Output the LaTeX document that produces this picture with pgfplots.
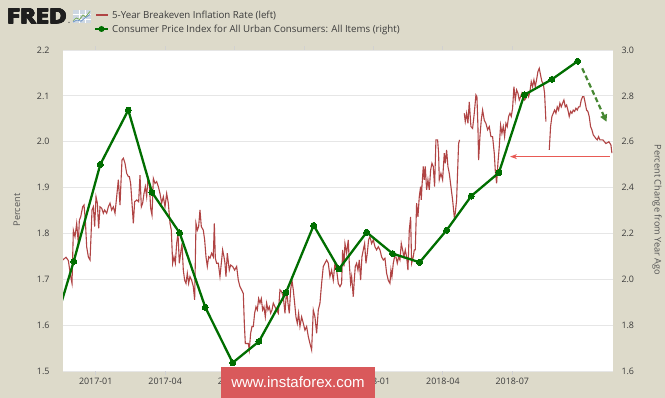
\documentclass[border=0pt]{standalone}
\usepackage{pgfplots}
\pgfplotsset{compat=1.18}
\usepackage{fontspec}
\setmainfont{Open Sans}
\newfontfamily\arialfont{Liberation Sans}
\newfontfamily\fredfont[BoldFeatures={FakeBold=3}]{Open Sans}
\usetikzlibrary{arrows.meta}
\definecolor{bgc}{RGB}{221,218,202}
\definecolor{bered}{RGB}{176,68,68}
\definecolor{cpigreen}{RGB}{0,110,0}
\definecolor{wm}{RGB}{217,89,91}
\definecolor{gridc}{RGB}{230,230,230}
\definecolor{tickc}{RGB}{60,60,60}
\definecolor{labc}{RGB}{85,85,85}
\definecolor{arrgreen}{RGB}{70,135,50}
\definecolor{arrred}{RGB}{232,90,85}
\definecolor{iconbg}{RGB}{205,215,226}
\definecolor{icongreen}{RGB}{120,170,90}
\definecolor{iconblue}{RGB}{110,150,200}
\begin{document}
\begin{tikzpicture}[x=1pt,y=1pt]
\fill[bgc] (0,0) rectangle (665,398);
\begin{axis}[
  at={(63pt,27pt)}, anchor=south west, scale only axis, width=550pt, height=321pt,
  xmin=-1.413, xmax=22.35, ymin=1.5, ymax=2.2,
  axis background/.style={fill=white},
  axis line style={draw=none},
  xtick={0,3,6,9,12,15,18},
  xticklabels={2017-01,2017-04,2017-07,2017-10,2018-01,2018-04,2018-07},
  ytick={1.5,1.6,1.7,1.8,1.9,2.0,2.1,2.2},
  ymajorgrids, grid style={gridc, line width=0.8pt},
  tick align=outside, major tick length=4pt,
  xtick style={draw=gridc!80!gray, line width=0.8pt}, ytick style={draw=none},
  tick label style={font=\fontsize{8.9}{10}\selectfont, text=tickc},
  yticklabel style={/pgf/number format/.cd,fixed,fixed zerofill,precision=1,assume math mode=true,/tikz/.cd,xshift=-6pt},
  unbounded coords=jump,
]
\addplot[bered, line width=1.1pt, no markers] coordinates {
(-1.427,1.742)(-1.283,1.748)(-1.182,1.741)(-1.081,1.706)(-1.024,1.691)(-0.966,1.807)(-0.894,1.793)(-0.822,1.822)(-0.750,1.778)(-0.707,1.829)(-0.649,1.836)(-0.563,1.858)(-0.505,1.862)(-0.448,1.829)(-0.390,1.771)(-0.318,1.749)(-0.246,1.742)(-0.203,1.793)(-0.160,1.851)(-0.102,1.858)(-0.045,1.815)(0.013,1.880)(0.071,1.866)(0.128,1.811)(0.186,1.858)(0.258,1.855)(0.330,1.844)(0.387,1.851)(0.474,1.844)(0.546,1.858)(0.618,1.866)(0.690,1.851)(0.762,1.858)(0.834,1.844)(0.906,1.880)(0.978,1.917)(1.050,1.862)(1.093,1.913)(1.136,1.960)(1.194,1.964)(1.266,1.953)(1.338,1.931)(1.410,1.924)(1.453,1.924)(1.510,1.909)(1.568,1.866)(1.626,1.822)(1.683,1.869)(1.770,1.873)(1.856,1.869)(1.914,1.927)(1.971,1.858)(2.029,1.866)(2.086,1.887)(2.144,1.902)(2.202,1.880)(2.259,1.920)(2.317,1.909)(2.374,1.855)(2.432,1.840)(2.490,1.920)(2.562,1.909)(2.634,1.913)(2.706,1.902)(2.778,1.887)(2.850,1.866)(2.922,1.880)(2.994,1.858)(3.066,1.887)(3.138,1.866)(3.210,1.822)(3.267,1.807)(3.325,1.735)(3.382,1.749)(3.440,1.735)(3.498,1.778)(3.555,1.800)(3.613,1.735)(3.670,1.757)(3.728,1.778)(3.785,1.720)(3.843,1.698)(3.901,1.691)(3.958,1.713)(4.016,1.691)(4.073,1.706)(4.145,1.698)(4.217,1.684)(4.275,1.655)(4.333,1.822)(4.390,1.807)(4.448,1.815)(4.505,1.851)(4.563,1.815)(4.649,1.807)(4.707,1.786)(4.765,1.749)(4.822,1.728)(4.880,1.749)(4.937,1.746)(5.009,1.757)(5.081,1.749)(5.125,1.822)(5.168,1.746)(5.225,1.735)(5.297,1.735)(5.369,1.706)(5.427,1.735)(5.484,1.764)(5.542,1.749)(5.585,1.735)(5.628,1.706)(5.686,1.757)(5.772,1.720)(5.830,1.731)(5.916,1.728)(6.003,1.720)(6.089,1.728)(6.161,1.698)(6.233,1.684)(6.305,1.677)(6.377,1.669)(6.421,1.604)(6.464,1.560)(6.521,1.560)(6.593,1.560)(6.636,1.546)(6.694,1.582)(6.752,1.597)(6.809,1.597)(6.867,1.626)(6.925,1.640)(6.982,1.633)(7.040,1.658)(7.097,1.648)(7.155,1.658)(7.212,1.633)(7.270,1.640)(7.328,1.618)(7.385,1.648)(7.443,1.633)(7.500,1.640)(7.558,1.626)(7.616,1.633)(7.673,1.648)(7.745,1.640)(7.817,1.633)(7.889,1.626)(7.961,1.677)(8.033,1.673)(8.105,1.662)(8.177,1.626)(8.249,1.677)(8.306,1.648)(8.364,1.626)(8.422,1.677)(8.479,1.698)(8.537,1.677)(8.595,1.648)(8.652,1.618)(8.710,1.604)(8.767,1.626)(8.825,1.597)(8.897,1.618)(8.969,1.604)(9.041,1.589)(9.113,1.597)(9.185,1.575)(9.257,1.560)(9.329,1.546)(9.401,1.633)(9.473,1.618)(9.545,1.582)(9.617,1.633)(9.689,1.648)(9.761,1.691)(9.833,1.728)(9.905,1.735)(9.977,1.742)(10.049,1.735)
(10.121,1.706)(10.193,1.720)(10.265,1.698)(10.337,1.735)(10.409,1.720)(10.481,1.691)(10.553,1.684)(10.625,1.691)(10.668,1.764)(10.726,1.728)(10.769,1.778)(10.841,1.757)(10.913,1.786)(10.956,1.735)(11.014,1.691)(11.057,1.706)(11.129,1.662)(11.172,1.698)(11.215,1.728)(11.273,1.735)(11.331,1.720)(11.388,1.742)(11.446,1.698)(11.503,1.749)(11.561,1.764)(11.619,1.778)(11.676,1.735)(11.734,1.757)(11.791,1.786)(11.849,1.793)(11.921,1.778)(11.993,1.786)(12.065,1.771)(12.137,1.764)(12.209,1.771)(12.281,1.764)(12.353,1.749)(12.425,1.742)(12.497,1.746)(12.569,1.713)(12.641,1.698)(12.713,1.691)(12.756,1.720)(12.799,1.706)(12.857,1.735)(12.914,1.749)(12.972,1.749)(13.030,1.735)(13.087,1.749)(13.145,1.742)(13.202,1.778)(13.260,1.764)(13.318,1.749)(13.375,1.764)(13.433,1.749)(13.490,1.720)(13.548,1.807)(13.606,1.836)(13.649,1.735)(13.721,1.749)(13.764,1.764)(13.807,1.764)(13.865,1.866)(13.922,1.836)(13.980,1.880)(14.037,1.902)(14.066,1.873)(14.095,1.902)(14.153,1.946)(14.196,1.917)(14.239,1.946)(14.297,1.895)(14.354,1.917)(14.412,1.895)(14.470,1.938)(14.527,1.953)(14.585,1.946)(14.642,1.902)(14.700,2.004)(14.772,2.004)(14.815,1.975)(14.844,1.917)(14.916,1.931)(14.988,1.917)(15.060,1.975)(15.103,1.953)(15.161,1.982)(15.218,1.946)(15.276,1.931)(15.348,1.902)(15.420,1.873)(15.492,1.836)(15.535,1.844)(15.593,1.873)(15.679,1.996)(15.722,2.004)(15.800,nan)(15.924,2.062)(15.967,2.044)(16.025,2.062)(16.082,2.040)(16.140,2.087)(16.212,2.033)(16.284,2.029)(16.356,2.062)(16.428,2.102)(16.471,2.098)(16.514,2.033)(16.543,1.960)(16.601,2.011)(16.658,2.047)(16.716,2.069)(16.788,2.047)(16.860,2.040)(16.932,2.026)(17.004,2.033)(17.076,2.011)(17.148,2.011)(17.220,1.975)(17.263,1.938)(17.321,1.909)(17.378,1.953)(17.436,1.989)(17.493,2.036)(17.551,2.018)(17.609,2.033)(17.666,2.011)(17.724,2.040)(17.781,2.033)(17.839,2.055)(17.897,2.062)(17.954,2.055)(18.012,2.073)(18.069,2.120)(18.127,2.091)(18.184,2.113)(18.242,2.106)(18.300,2.091)(18.357,2.098)(18.415,2.106)(18.472,2.098)(18.530,2.091)(18.587,2.095)(18.645,2.106)(18.703,2.098)(18.760,2.109)(18.818,2.131)(18.875,2.120)(18.933,2.135)(18.991,2.120)(19.048,2.135)(19.106,2.153)(19.164,2.160)(19.221,2.145)(19.279,2.131)(19.336,2.127)(19.394,2.106)(19.452,2.044)(19.520,nan)(19.596,1.982)(19.653,2.033)(19.711,2.055)(19.768,2.062)(19.826,2.069)(19.884,2.062)(19.941,2.076)(19.999,2.069)(20.056,2.084)(20.114,2.076)(20.171,2.084)(20.229,2.091)(20.287,2.076)(20.344,2.080)(20.402,2.069)(20.459,2.055)(20.517,2.066)(20.575,2.062)(20.632,2.069)(20.690,2.066)(20.747,2.073)(20.805,2.069)(20.863,2.076)(20.920,2.076)(20.978,2.091)(21.035,2.098)(21.093,2.098)(21.151,2.084)(21.208,2.069)(21.266,2.066)(21.323,2.055)(21.381,2.033)(21.439,2.026)(21.496,2.015)(21.554,2.011)(21.612,2.007)(21.669,2.004)(21.727,2.011)(21.784,2.004)(21.914,2.004)(22.043,1.996)(22.173,2.000)(22.260,1.993)(22.303,1.975)
};
\end{axis}
\begin{axis}[
  at={(63pt,27pt)}, anchor=south west, scale only axis, width=550pt, height=321pt,
  xmin=-1.413, xmax=22.35, ymin=1.6, ymax=3.0,
  axis x line=none, axis y line*=right, axis line style={draw=none},
  ytick={1.6,1.8,2.0,2.2,2.4,2.6,2.8,3.0},
  ytick style={draw=none},
  tick label style={font=\fontsize{8.9}{10}\selectfont, text=tickc},
  yticklabel style={/pgf/number format/.cd,fixed,fixed zerofill,precision=1,assume math mode=true,/tikz/.cd,xshift=5pt},
  clip marker paths=true,
]
\addplot[cpigreen, line width=2.3pt, mark=*, mark size=3pt, mark options={solid, fill=cpigreen, draw=cpigreen, line width=0pt}] coordinates {
(-2.095,1.692)(-0.950,2.078)(0.199,2.501)(1.408,2.738)(2.432,2.379)(3.629,2.202)(4.734,1.878)(5.918,1.636)(7.054,1.729)(8.220,1.942)(9.417,2.235)(10.510,2.045)(11.706,2.205)(12.829,2.112)(13.996,2.074)(15.162,2.214)(16.225,2.363)(17.421,2.465)(18.514,2.804)(19.711,2.872)(20.821,2.951)
};
\draw[arrgreen, line width=2.2pt, dash pattern=on 5pt off 3pt, -{Triangle[length=7pt,width=7pt]}] (axis cs:21.02,2.920) -- (axis cs:22.07,2.687);
\draw[arrred, line width=1.4pt, -{Stealth[length=7pt,width=5pt]}] (axis cs:22.2,2.535) -- (axis cs:17.90,2.535);
\end{axis}
% axis titles
\node[rotate=90, font=\fontsize{9.2}{10}\selectfont, text=labc] at (17,188) {Percent};
\node[rotate=-90, font=\fontsize{9.2}{10}\selectfont, text=labc] at (657,188) {Percent Change from Year Ago};
% header
\foreach \dx/\dy in {0/0,0.45/0,0.9/0,0.2/0.35,0.7/0.35}{
  \node[anchor=west, inner sep=0, font=\fredfont\fontsize{20.5}{21}\selectfont\bfseries, text=black!88] at (6.3+\dx,382+\dy) {\scalebox{1.16}[1]{FRED}};
}
\fill[black!60] (69,375.6) circle (0.8);
\fill[iconbg] (72.7,374.7) rectangle (90.7,388);
\draw[white, line width=0.4pt] (72.7,379)--(90.7,379) (72.7,383.5)--(90.7,383.5) (78.7,374.7)--(78.7,388) (84.7,374.7)--(84.7,388);
\draw[icongreen, line width=0.8pt] (73,377.5)--(76.5,380)--(79.5,378.5)--(83,383)--(85.5,381)--(90,386.5);
\draw[iconblue, line width=0.8pt] (73,376)--(77,378)--(81,376.8)--(85,380)--(90,383.5);
\draw[bered, line width=1.2pt] (96,383) -- (108,383);
\node[anchor=base west, inner sep=0, font=\fontsize{9.7}{11}\selectfont, text=tickc] at (112,379.3) {5-Year Breakeven Inflation Rate (left)};
\draw[cpigreen, line width=2.4pt] (95,369) -- (108,369);
\fill[cpigreen] (101.5,369) circle (3pt);
\node[anchor=base west, inner sep=0, font=\fontsize{9.7}{11}\selectfont, text=tickc] at (112,365.8) {Consumer Price Index for All Urban Consumers: All Items (right)};
% watermark
\fill[wm] (221,0) rectangle (375,31.3);
\node[font=\arialfont\fontsize{15}{15}\selectfont, text=white, inner sep=0] at (298,15.5) {www.instaforex.com};
\pgfresetboundingbox
\path[use as bounding box] (0,0) rectangle (665,398);
\end{tikzpicture}
\end{document}
